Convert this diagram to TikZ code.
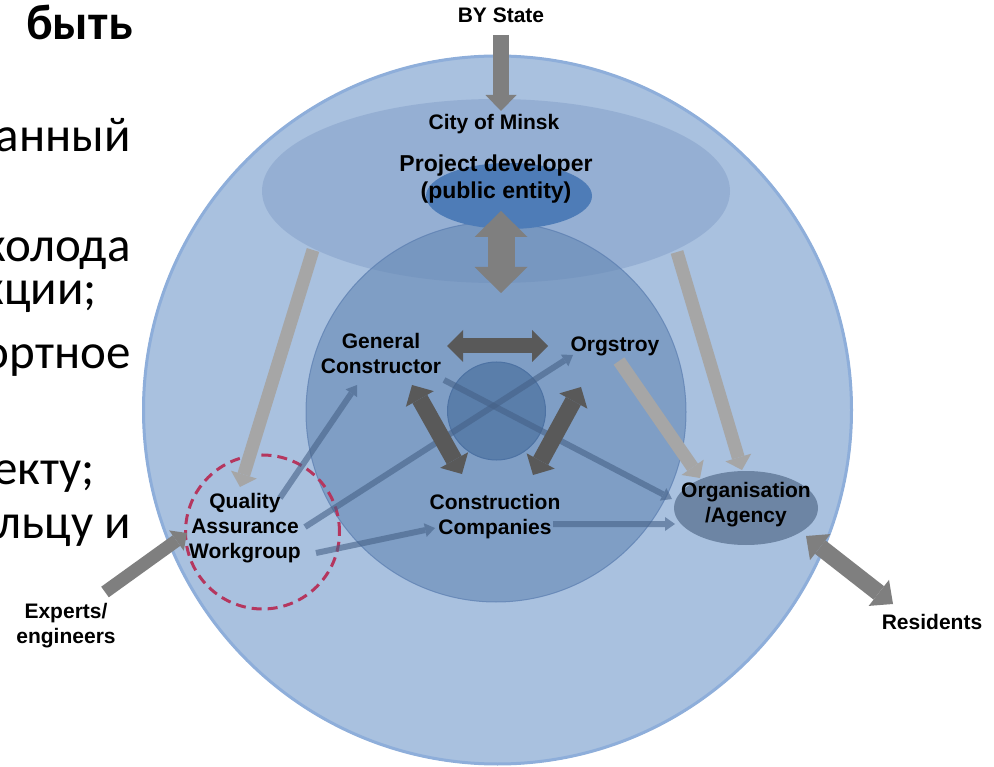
\documentclass[tikz,border=0pt]{standalone}
\usepackage{fontspec}
\setmainfont{Liberation Sans}
\newfontfamily\ruf{Carlito}
\usetikzlibrary{arrows.meta}
\definecolor{bigfill}{HTML}{A9C1DF}
\definecolor{bigdraw}{HTML}{8EAEDA}
\definecolor{ellfill}{HTML}{7896C3}
\definecolor{midfill}{HTML}{6487B4}
\definecolor{middraw}{HTML}{5A7DB0}
\definecolor{pdfill}{HTML}{4E7CB7}
\definecolor{cenfill}{HTML}{5A7EAA}
\definecolor{cendraw}{HTML}{4D72A3}
\definecolor{orgfill}{HTML}{6D85A4}
\definecolor{gdark}{HTML}{595959}
\definecolor{gmid}{HTML}{7F7F7F}
\definecolor{glight}{HTML}{A6A6A6}
\definecolor{barr}{HTML}{456187}
\definecolor{redd}{HTML}{B5365E}
\tikzset{
  lbl/.style={font=\bfseries\fontsize{21}{25}\selectfont, align=center, inner sep=0pt, text=black},
  rutext/.style={font=\ruf\fontsize{49}{49}\selectfont, anchor=base east, inner sep=0pt},
  lgarr/.style={draw=glight, line width=13pt, -{Triangle[width=27pt,length=13pt,line width=0pt]}},
  gmarr/.style={draw=gmid, line width=16pt, -{Triangle[width=31pt,length=16pt,line width=0pt]}},
  gddbl/.style={draw=gdark, line width=16pt, {Triangle[width=32pt,length=16pt,line width=0pt]}-{Triangle[width=32pt,length=16pt,line width=0pt]}},
  bluearr/.style={draw=barr, line width=6pt, -{Triangle[width=14pt,length=10pt,line width=0pt]}},
}
\begin{document}
\begin{tikzpicture}[x=1pt,y=-1pt]
\path[fill=white, use as bounding box] (0,0) rectangle (994,767);
% Russian text (cropped slide text)
\node[rutext, font=\ruf\bfseries\fontsize{50}{50}\selectfont] (ru1) at (133,40) {быть};
\node[rutext] (ru2) at (131,152) {анный};
\node[rutext] (ru3) at (131,262) {колода};
\node[rutext] (ru4) at (97,305) {кции;};
\node[rutext] (ru5) at (131,369) {ортное};
\node[rutext] (ru6) at (95,484) {екту;};
\node[rutext] (ru7) at (131,538) {льцу и};
% circles
\fill[bigfill] (497.5,410) circle[radius=355pt];
\draw[bigdraw, line width=3pt] (497.5,410) circle[radius=354pt];
\fill[ellfill, opacity=0.4] (496,191) ellipse[x radius=234pt, y radius=92pt];
\filldraw[fill=midfill, draw=middraw, line width=1pt, fill opacity=0.6, draw opacity=0.7] (496,412) circle[radius=190pt];
\fill[pdfill] (509,196) ellipse[x radius=83pt, y radius=33pt];
\filldraw[fill=cenfill, draw=cendraw, line width=1pt] (496.5,411) circle[radius=49pt];
\fill[orgfill] (746,508) ellipse[x radius=72pt, y radius=37pt];
\draw[redd, line width=3pt, dash pattern=on 10pt off 6pt] (262.5,532) circle[radius=77pt];
% coordinates
\coordinate (bys0) at (501,35);   \coordinate (bys1) at (501,111);
\coordinate (pd0) at (501,211);   \coordinate (pd1) at (501,293);
\coordinate (l0) at (313,250);    \coordinate (l1) at (240,487);
\coordinate (r0) at (677,252);    \coordinate (r1) at (742,470);
\coordinate (o0) at (619,361);    \coordinate (o1) at (700,478);
\coordinate (h0) at (447,346);    \coordinate (h1) at (548,346);
\coordinate (dl0) at (412,385);   \coordinate (dl1) at (462,474);
\coordinate (dr0) at (581,387);   \coordinate (dr1) at (533,475);
\coordinate (qg0) at (280,498);   \coordinate (qg1) at (357,385);
\coordinate (qo0) at (305,527);   \coordinate (qo1) at (573,355);
\coordinate (qc0) at (316,553);   \coordinate (qc1) at (435,528);
\coordinate (go0) at (444,380);   \coordinate (go1) at (672,499);
\coordinate (co0) at (553,524);   \coordinate (co1) at (675,524);
\coordinate (ex0) at (105,592);   \coordinate (ex1) at (187,533);
\coordinate (rs0) at (806,536);   \coordinate (rs1) at (893,604);
% light gray arrows
\draw[lgarr] (l0) -- (l1);
\draw[lgarr] (r0) -- (r1);
\draw[lgarr] (o0) -- (o1);
% blue arrows
\begin{scope}[transparency group, opacity=0.6]\draw[bluearr] (qg0) -- (qg1);\end{scope}
\begin{scope}[transparency group, opacity=0.6]\draw[bluearr] (qo0) -- (qo1);\end{scope}
\begin{scope}[transparency group, opacity=0.6]\draw[bluearr] (qc0) -- (qc1);\end{scope}
\begin{scope}[transparency group, opacity=0.6]\draw[bluearr] (go0) -- (go1);\end{scope}
\begin{scope}[transparency group, opacity=0.6]\draw[bluearr] (co0) -- (co1);\end{scope}
% dark double arrows
\draw[gddbl, line width=15pt] (h0) -- (h1);
\draw[gddbl, line width=17pt] (dl0) -- (dl1);
\draw[gddbl, line width=17pt] (dr0) -- (dr1);
% mid gray arrows
\draw[gmarr] (bys0) -- (bys1);
\draw[draw=gmid, line width=27pt, {Triangle[width=53pt,length=26pt,line width=0pt]}-{Triangle[width=53pt,length=26pt,line width=0pt]}] (pd0) -- (pd1);
\draw[draw=gmid, line width=13pt, -{Triangle[width=25pt,length=13pt,line width=0pt]}] (ex0) -- (ex1);
\draw[draw=gmid, line width=17pt, {Triangle[width=33pt,length=18pt,line width=0pt]}-{Triangle[width=33pt,length=18pt,line width=0pt]}] (rs0) -- (rs1);
% labels
\node[lbl, anchor=base] (bystate) at (501,22.5) {BY State};
\node[lbl, anchor=base] (minsk) at (494,130) {City of Minsk};
\node[lbl, font=\bfseries\fontsize{23}{27}\selectfont] (pdev) at (496,179) {Project developer\\(public entity)};
\node[lbl] (gcon) at (381,353) {General\\Constructor};
\node[lbl, anchor=base] (orgs) at (615,352) {Orgstroy};
\node[lbl] (qa) at (245,528) {Quality\\Assurance\\Workgroup};
\node[lbl] (ccomp) at (495,517) {Construction\\Companies};
\node[lbl] (org) at (746,505) {Organisation\\/Agency};
\node[lbl, anchor=base] (res) at (932,629) {Residents};
\node[lbl] (exp) at (66,626) {Experts/\\engineers};
\end{tikzpicture}
\end{document}
